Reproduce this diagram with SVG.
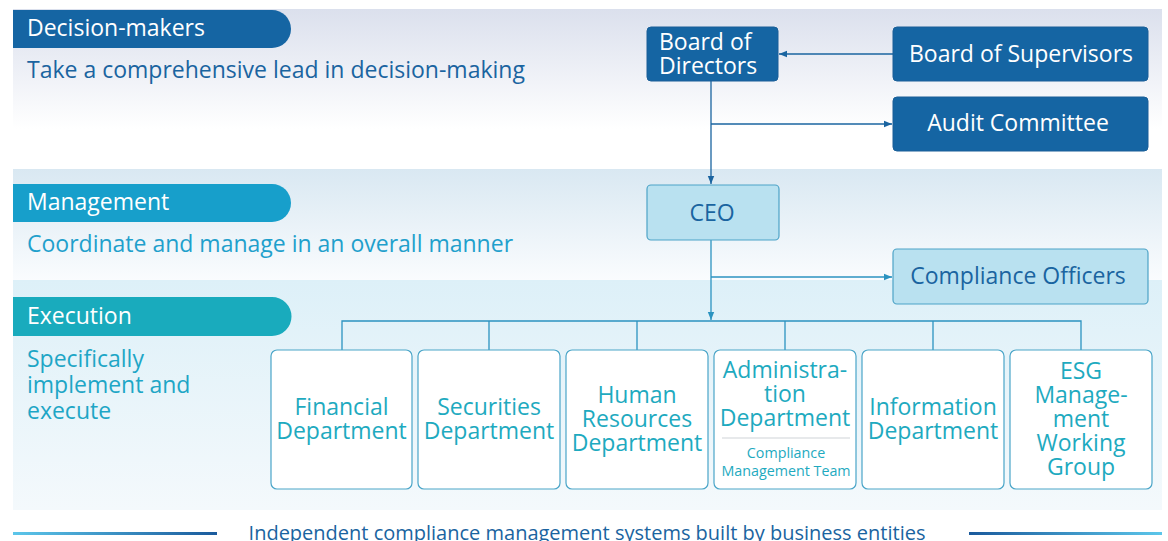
<svg xmlns="http://www.w3.org/2000/svg" width="1168" height="541" viewBox="0 0 1168 541">
<defs>
<linearGradient id="g1" x1="0" y1="0" x2="0" y2="1"><stop offset="0" stop-color="#dbe0ed"/><stop offset="0.75" stop-color="#ffffff"/><stop offset="1" stop-color="#ffffff"/></linearGradient>
<linearGradient id="g2" x1="0" y1="0" x2="0" y2="1"><stop offset="0" stop-color="#d9e8f2"/><stop offset="1" stop-color="#fafcfe"/></linearGradient>
<linearGradient id="g3" x1="0" y1="0" x2="0" y2="1"><stop offset="0" stop-color="#ddf0f8"/><stop offset="1" stop-color="#f4f9fc"/></linearGradient>
<linearGradient id="ll" x1="0" y1="0" x2="1" y2="0"><stop offset="0" stop-color="#5cc6ea"/><stop offset="1" stop-color="#1a5a9c"/></linearGradient>
<linearGradient id="lr" x1="0" y1="0" x2="1" y2="0"><stop offset="0" stop-color="#1a5a9c"/><stop offset="1" stop-color="#5cc6ea"/></linearGradient>
<marker id="ad" viewBox="0 0 10 10" refX="10" refY="5" markerWidth="8" markerHeight="8" markerUnits="userSpaceOnUse" orient="auto"><path d="M0,1 L10,5 L0,9 z" fill="#1a64a0"/></marker>
<marker id="am" viewBox="0 0 10 10" refX="10" refY="5" markerWidth="8" markerHeight="8" markerUnits="userSpaceOnUse" orient="auto"><path d="M0,1 L10,5 L0,9 z" fill="#2b93c0"/></marker>
<style>
text{font-family:"Open Sans","Noto Sans","Liberation Sans",sans-serif}
.pill{font-size:23px;fill:#ffffff}
.lb{font-size:23px}
.boxd{fill:#1565a3;stroke:#1a5f98;stroke-width:1}
.boxm{fill:#b9e1f0;stroke:#4da3c7;stroke-width:1.2}
.boxe{fill:#ffffff;stroke:#4aa5c8;stroke-width:1.2}
.wt{fill:#ffffff;font-size:23px}
.mt{fill:#1a64a0;font-size:23px}
.et{fill:#1eaabf;font-size:23px;text-anchor:middle}
.es{fill:#1eaabf;font-size:14.3px;text-anchor:middle}
.cd{stroke:#1a64a0;stroke-width:1.3;fill:none}
.cm{stroke:#2b93c0;stroke-width:1.3;fill:none}
</style>
</defs>
<g id="background">
<rect x="13" y="9" width="1149" height="160" fill="url(#g1)"/>
<rect x="13" y="169" width="1149" height="111" fill="url(#g2)"/>
<rect x="13" y="280" width="1149" height="230" fill="url(#g3)"/>
</g>
<g id="level-decision">
<path d="M13,10 H272 A19,19 0 0 1 272,48 H13 Z" fill="#1565a3"/>
<text class="pill" x="27" y="36">Decision-makers</text>
<text class="lb" x="27" y="78" fill="#1a64a0">Take a comprehensive lead in decision-making</text>
</g>
<g id="level-management">
<path d="M13,184 H272 A19,19 0 0 1 272,222 H13 Z" fill="#179fcb"/>
<text class="pill" x="27" y="210">Management</text>
<text class="lb" x="27" y="252" fill="#1fa0cc">Coordinate and manage in an overall manner</text>
</g>
<g id="level-execution">
<path d="M13,297 H272 A19,19 0 0 1 272,336 H13 Z" fill="#19abbd"/>
<text class="pill" x="27" y="324">Execution</text>
<text class="lb" fill="#1ea6c6"><tspan x="27" y="367">Specifically</tspan><tspan x="27" y="393">implement and</tspan><tspan x="27" y="419">execute</tspan></text>
</g>
<g id="connectors">
<path class="cd" d="M893,54 H779" marker-end="url(#ad)"/>
<path class="cd" d="M711,81 V184" marker-end="url(#ad)"/>
<path class="cd" d="M711,124 H892" marker-end="url(#ad)"/>
<path class="cm" d="M711,240 V320" marker-end="url(#am)"/>
<path class="cm" d="M711,277 H892" marker-end="url(#am)"/>
<path class="cm" d="M342,350 V321 H1081 V350 M489,321 V350 M637,321 V350 M785,321 V350 M933,321 V350"/>
</g>
<g id="board-of-directors">
<rect class="boxd" x="647" y="27" width="131" height="54" rx="4"/>
<text class="wt"><tspan x="659" y="50">Board of</tspan><tspan x="659" y="74">Directors</tspan></text>
</g>
<g id="board-of-supervisors">
<rect class="boxd" x="893" y="27" width="255" height="54" rx="4"/>
<text class="wt" x="1021" y="62" text-anchor="middle">Board of Supervisors</text>
</g>
<g id="audit-committee">
<rect class="boxd" x="893" y="97" width="255" height="54" rx="4"/>
<text class="wt" x="1018" y="131" text-anchor="middle">Audit Committee</text>
</g>
<g id="ceo">
<rect class="boxm" x="647" y="185" width="132" height="55" rx="4"/>
<text class="mt" x="712" y="221" text-anchor="middle">CEO</text>
</g>
<g id="compliance-officers">
<rect class="boxm" x="893" y="249" width="255" height="55" rx="4"/>
<text class="mt" x="1018" y="284" text-anchor="middle">Compliance Officers</text>
</g>
<g id="financial-department">
<rect class="boxe" x="271" y="350" width="141" height="139" rx="6"/>
<text class="et"><tspan x="341.5" y="415">Financial</tspan><tspan x="341.5" y="439">Department</tspan></text>
</g>
<g id="securities-department">
<rect class="boxe" x="418" y="350" width="142" height="139" rx="6"/>
<text class="et"><tspan x="489" y="415">Securities</tspan><tspan x="489" y="439">Department</tspan></text>
</g>
<g id="human-resources-department">
<rect class="boxe" x="566" y="350" width="142" height="139" rx="6"/>
<text class="et"><tspan x="637" y="403">Human</tspan><tspan x="637" y="427">Resources</tspan><tspan x="637" y="451">Department</tspan></text>
</g>
<g id="administration-department">
<rect class="boxe" x="714" y="350" width="142" height="139" rx="6"/>
<text class="et"><tspan x="785" y="378">Administra-</tspan><tspan x="785" y="402">tion</tspan><tspan x="785" y="426">Department</tspan></text>
<line x1="722" y1="438" x2="850" y2="438" stroke="#cfd4d8" stroke-width="1.2"/>
<text class="es"><tspan x="786" y="458">Compliance</tspan><tspan x="786" y="476">Management Team</tspan></text>
</g>
<g id="information-department">
<rect class="boxe" x="862" y="350" width="142" height="139" rx="6"/>
<text class="et"><tspan x="933" y="415">Information</tspan><tspan x="933" y="439">Department</tspan></text>
</g>
<g id="esg-working-group">
<rect class="boxe" x="1010" y="350" width="142" height="139" rx="6"/>
<text class="et"><tspan x="1081" y="379">ESG</tspan><tspan x="1081" y="403">Manage-</tspan><tspan x="1081" y="427">ment</tspan><tspan x="1081" y="451">Working</tspan><tspan x="1081" y="475">Group</tspan></text>
</g>
<g id="footer">
<rect x="13" y="532" width="204" height="3" fill="url(#ll)"/>
<rect x="969" y="532" width="193" height="3" fill="url(#lr)"/>
<text x="587" y="540" text-anchor="middle" font-size="20" fill="#1a64a0">Independent compliance management systems built by business entities</text>
</g>
</svg>
